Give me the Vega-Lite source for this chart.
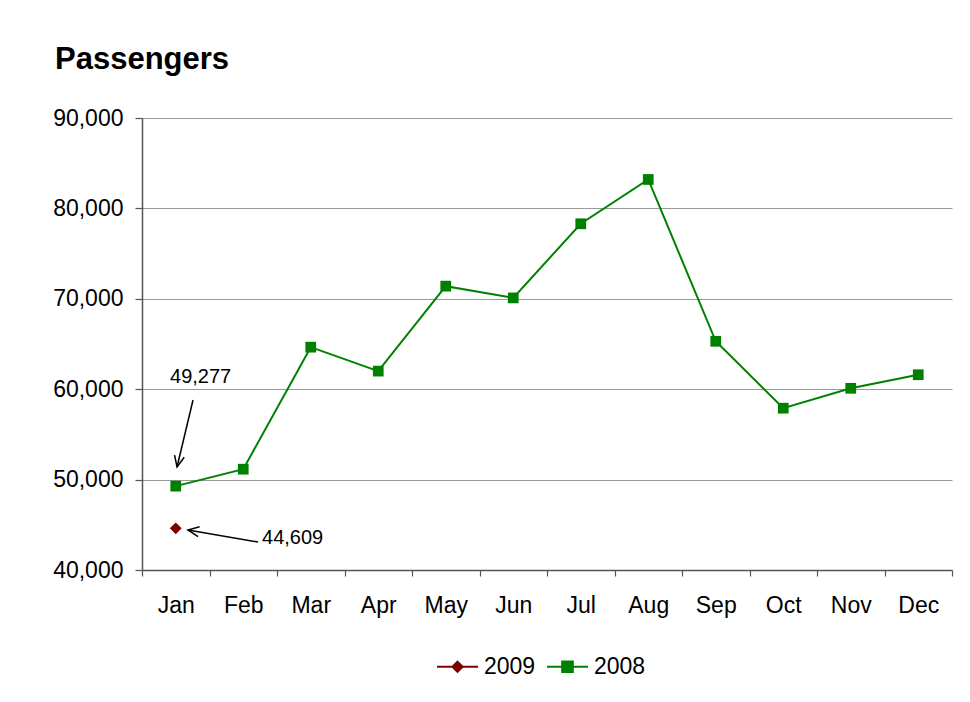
{
  "$schema": "https://vega.github.io/schema/vega-lite/v6.json",
  "width": 810,
  "height": 452,
  "autosize": {"type": "none"},
  "padding": {"left": 142, "top": 118, "right": 18, "bottom": 132},
  "background": "white",
  "title": {"text": "Passengers", "anchor": "start", "frame": "group", "dx": -87, "offset": 31, "fontSize": 31, "font": "Liberation Sans", "fontWeight": "bold", "color": "black"},
  "config": {
    "font": "Liberation Sans",
    "view": {"stroke": null},
    "axis": {"labelFont": "Liberation Sans", "labelColor": "black", "labelFontSize": 23, "domainColor": "#555555", "domainWidth": 1.5, "tickColor": "#555555", "tickWidth": 1.2},
    "legend": {"labelFont": "Liberation Sans"}
  },
  "resolve": {"axis": {"x": "independent"}},
  "datasets": {
    "passengers": [
      {"month": 1, "series": "2008", "value": 49277},
      {"month": 2, "series": "2008", "value": 51150},
      {"month": 3, "series": "2008", "value": 64650},
      {"month": 4, "series": "2008", "value": 62000},
      {"month": 5, "series": "2008", "value": 71400},
      {"month": 6, "series": "2008", "value": 70100},
      {"month": 7, "series": "2008", "value": 78300},
      {"month": 8, "series": "2008", "value": 83200},
      {"month": 9, "series": "2008", "value": 65300},
      {"month": 10, "series": "2008", "value": 57900},
      {"month": 11, "series": "2008", "value": 60100},
      {"month": 12, "series": "2008", "value": 61600},
      {"month": 1, "series": "2009", "value": 44609}
    ],
    "notes": [
      {"note": "a", "x": 1.019, "y": 51394, "xt": 1.256, "yt": 58805, "lx": 0.915, "ly": 61350, "label": "49,277"},
      {"note": "b", "x": 1.181, "y": 44425, "xt": 2.219, "yt": 43097, "lx": 2.278, "ly": 43540, "label": "44,609"}
    ]
  },
  "layer": [
    {
      "data": {"name": "passengers"},
      "mark": {"type": "line", "strokeWidth": 2},
      "encoding": {
        "x": {"field": "month", "type": "quantitative", "scale": {"domain": [0.5, 12.5], "nice": false, "zero": false},
          "axis": {"orient": "bottom", "title": null, "grid": false, "labels": false,
            "values": [0.5, 1.5, 2.5, 3.5, 4.5, 5.5, 6.5, 7.5, 8.5, 9.5, 10.5, 11.5, 12.5],
            "tickSize": 6}},
        "y": {"field": "value", "type": "quantitative", "scale": {"domain": [40000, 90000], "nice": false, "zero": false},
          "axis": {"title": null, "values": [40000, 50000, 60000, 70000, 80000, 90000], "format": ",d", "tickSize": 7, "labelPadding": 12, "grid": true, "gridColor": "#999999", "gridWidth": 1}},
        "color": {"field": "series", "type": "nominal", "scale": {"domain": ["2009", "2008"], "range": ["#800000", "#008000"]},
          "legend": {"orient": "none", "legendX": 294, "legendY": 527, "direction": "horizontal", "title": null,
            "symbolSize": 1681, "symbolStrokeWidth": 2, "labelFontSize": 23, "labelColor": "black", "labelOffset": 5, "columnPadding": 7, "padding": 0,
            "encode": {"symbols": {"update": {
              "shape": {"signal": "datum.value === '2009' ? 'M-1,0L1,0M0,-0.25L0.25,0L0,0.25L-0.25,0Z' : 'M-1,0L1,0M-0.26,-0.26L0.26,-0.26L0.26,0.26L-0.26,0.26Z'"},
              "stroke": {"signal": "datum.value === '2009' ? '#800000' : '#008000'"},
              "fill": {"signal": "datum.value === '2009' ? '#800000' : '#008000'"},
              "strokeWidth": {"value": 2},
              "opacity": {"value": 1}}}}}}
      }
    },
    {
      "data": {"name": "passengers"},
      "transform": [{"filter": "datum.series === '2008'"}],
      "mark": {"type": "point", "shape": "square", "size": 115, "filled": true, "opacity": 1},
      "encoding": {
        "x": {"field": "month", "type": "quantitative", "scale": {"domain": [0.5, 12.5], "nice": false, "zero": false},
          "axis": {"orient": "bottom", "title": null, "grid": false, "domain": false,
            "values": [1, 2, 3, 4, 5, 6, 7, 8, 9, 10, 11, 12],
            "labelExpr": "substring('JanFebMarAprMayJunJulAugSepOctNovDec', (datum.value - 1) * 3, datum.value * 3)",
            "tickColor": "transparent", "tickSize": 6, "labelPadding": 18, "labelOverlap": false, "labelFlush": false}},
        "y": {"field": "value", "type": "quantitative", "scale": {"domain": [40000, 90000], "nice": false, "zero": false}},
        "color": {"field": "series", "type": "nominal", "scale": {"domain": ["2009", "2008"], "range": ["#800000", "#008000"]}}
      }
    },
    {
      "data": {"name": "passengers"},
      "transform": [{"filter": "datum.series === '2009'"}],
      "mark": {"type": "point", "shape": "diamond", "size": 140, "filled": true, "opacity": 1},
      "encoding": {
        "x": {"field": "month", "type": "quantitative", "scale": {"domain": [0.5, 12.5], "nice": false, "zero": false}, "axis": null},
        "y": {"field": "value", "type": "quantitative", "scale": {"domain": [40000, 90000], "nice": false, "zero": false}},
        "color": {"field": "series", "type": "nominal", "scale": {"domain": ["2009", "2008"], "range": ["#800000", "#008000"]}}
      }
    },
    {
      "data": {"name": "notes"},
      "mark": {"type": "rule", "color": "black", "strokeWidth": 1.5},
      "encoding": {
        "x": {"field": "x", "type": "quantitative", "scale": {"domain": [0.5, 12.5], "nice": false, "zero": false}, "axis": null},
        "x2": {"field": "xt"},
        "y": {"field": "y", "type": "quantitative", "scale": {"domain": [40000, 90000], "nice": false, "zero": false}},
        "y2": {"field": "yt"}
      }
    },
    {
      "data": {"name": "notes"},
      "transform": [{"filter": "datum.note === 'a'"}],
      "mark": {"type": "point", "shape": "M-0.45,1L0,0L0.45,1", "size": 484, "angle": 192.4, "filled": false, "stroke": "black", "strokeWidth": 1.5, "opacity": 1},
      "encoding": {
        "x": {"field": "x", "type": "quantitative", "scale": {"domain": [0.5, 12.5], "nice": false, "zero": false}, "axis": null},
        "y": {"field": "y", "type": "quantitative", "scale": {"domain": [40000, 90000], "nice": false, "zero": false}}
      }
    },
    {
      "data": {"name": "notes"},
      "transform": [{"filter": "datum.note === 'b'"}],
      "mark": {"type": "point", "shape": "M-0.45,1L0,0L0.45,1", "size": 484, "angle": 278.8, "filled": false, "stroke": "black", "strokeWidth": 1.5, "opacity": 1},
      "encoding": {
        "x": {"field": "x", "type": "quantitative", "scale": {"domain": [0.5, 12.5], "nice": false, "zero": false}, "axis": null},
        "y": {"field": "y", "type": "quantitative", "scale": {"domain": [40000, 90000], "nice": false, "zero": false}}
      }
    },
    {
      "data": {"name": "notes"},
      "mark": {"type": "text", "align": "left", "baseline": "middle", "fontSize": 20, "font": "Liberation Sans", "color": "black"},
      "encoding": {
        "x": {"field": "lx", "type": "quantitative", "scale": {"domain": [0.5, 12.5], "nice": false, "zero": false}, "axis": null},
        "y": {"field": "ly", "type": "quantitative", "scale": {"domain": [40000, 90000], "nice": false, "zero": false}},
        "text": {"field": "label"}
      }
    }
  ]
}
